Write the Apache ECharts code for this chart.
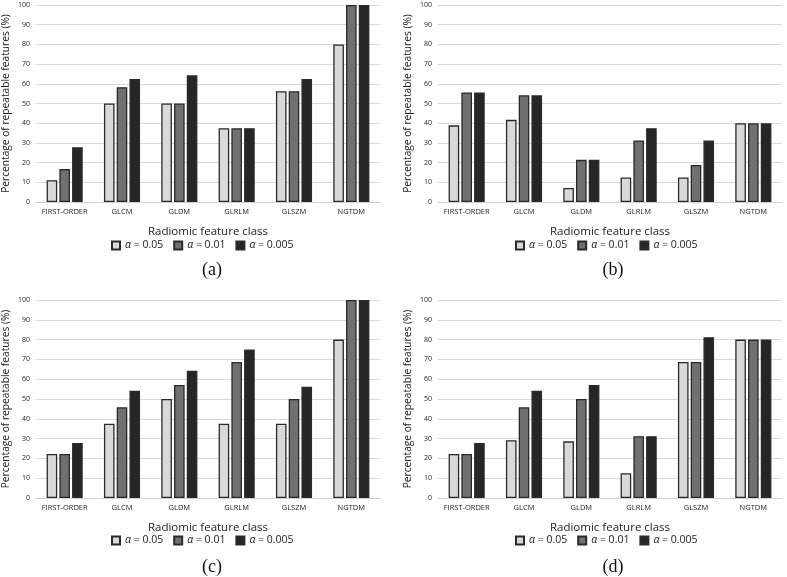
<!DOCTYPE html>
<html>
<head>
<meta charset="utf-8">
<script src="https://cdn.jsdelivr.net/npm/echarts@6/dist/echarts.min.js"></script>
<style>
html,body{margin:0;padding:0;background:#fff;}
#main{width:787px;height:577px;}
</style>
</head>
<body>
<div id="main"></div>
<script>
const categories = ['FIRST-ORDER', 'GLCM', 'GLDM', 'GLRLM', 'GLSZM', 'NGTDM'];
const seriesNames = ['α = 0.05', 'α = 0.01', 'α = 0.005'];
const panelLabels = ['(a)', '(b)', '(c)', '(d)'];

// Panel (a)
const a_alpha005 = [11.1, 50, 50, 37.5, 56.25, 80];
const a_alpha001 = [16.7, 58.3, 50, 37.5, 56.25, 100];
const a_alpha0005 = [27.8, 62.5, 64.3, 37.5, 62.5, 100];
// Panel (b)
const b_alpha005 = [38.9, 41.7, 7.1, 12.5, 12.5, 40];
const b_alpha001 = [55.6, 54.2, 21.4, 31.25, 18.75, 40];
const b_alpha0005 = [55.6, 54.2, 21.4, 37.5, 31.25, 40];
// Panel (c)
const c_alpha005 = [22.2, 37.5, 50, 37.5, 37.5, 80];
const c_alpha001 = [22.2, 45.8, 57.1, 68.75, 50, 100];
const c_alpha0005 = [27.8, 54.2, 64.3, 75, 56.25, 100];
// Panel (d)
const d_alpha005 = [22.2, 29.2, 28.6, 12.5, 68.75, 80];
const d_alpha001 = [22.2, 45.8, 50, 31.25, 68.75, 80];
const d_alpha0005 = [27.8, 54.2, 57.1, 31.25, 81.25, 80];

const panelData = [
  [a_alpha005, a_alpha001, a_alpha0005],
  [b_alpha005, b_alpha001, b_alpha0005],
  [c_alpha005, c_alpha001, c_alpha0005],
  [d_alpha005, d_alpha001, d_alpha0005]
];

const colors = ['#d9d9d9', '#707070', '#262626'];
const font = 'Open Sans';

const grids = [
  {left: 33, right: 407, top: 5, bottom: 375},
  {left: 438, right: 5, top: 5, bottom: 375},
  {left: 33, right: 407, top: 300, bottom: 79},
  {left: 438, right: 5, top: 300, bottom: 79}
];
const legendPos = [
  {x: 106, y: 235}, {x: 510, y: 235}, {x: 106, y: 530}, {x: 510, y: 530}
];
const titlePos = [
  {x: 207, y: 256}, {x: 608, y: 256}, {x: 207, y: 553}, {x: 608, y: 553}
];

const xAxes = [], yAxes = [], series = [], legends = [], titles = [];
grids.forEach((g, i) => {
  xAxes.push({
    type: 'category', gridIndex: i, data: categories,
    axisLine: {lineStyle: {color: '#d0d0d0', width: 1}},
    axisTick: {show: false},
    axisLabel: {fontSize: 7.5, color: '#222', fontFamily: font, margin: 6, interval: 0},
    name: 'Radiomic feature class', nameLocation: 'middle', nameGap: 24,
    nameTextStyle: {fontSize: 11.5, color: '#222', fontFamily: font}
  });
  yAxes.push({
    type: 'value', gridIndex: i, min: 0, max: 100, interval: 10,
    axisLine: {show: false}, axisTick: {show: false},
    splitLine: {lineStyle: {color: '#d9d9d9', width: 1}},
    axisLabel: {fontSize: 7, color: '#222', fontFamily: font, margin: 6},
    name: 'Percentage of repeatable features (%)', nameLocation: 'middle', nameGap: 25,
    nameTextStyle: {fontSize: 10.2, color: '#222', fontFamily: font}
  });
  panelData[i].forEach((vals, k) => {
    series.push({
      type: 'bar', name: seriesNames[k], xAxisIndex: i, yAxisIndex: i,
      data: vals, barCategoryGap: '37%', barGap: '20%',
      itemStyle: {color: colors[k], borderColor: '#2a2a2a', borderWidth: 1.3},
      emphasis: {disabled: true}
    });
  });
  legends.push({
    data: seriesNames, left: legendPos[i].x, top: legendPos[i].y, width: 270,
    icon: 'rect', itemWidth: 8, itemHeight: 8, itemGap: 10,
    selectedMode: false,
    formatter: function (name) { return '{it|α}' + name.slice(1); },
    textStyle: {
      fontSize: 10.5, color: '#222', fontFamily: font,
      rich: {it: {fontStyle: 'italic', fontSize: 10.5, fontFamily: font, color: '#222'}}
    }
  });
  titles.push({
    text: panelLabels[i], left: titlePos[i].x, top: titlePos[i].y, textAlign: 'center',
    textStyle: {fontFamily: 'Liberation Serif', fontSize: 18, fontWeight: 'normal', color: '#111'}
  });
});

const chart = echarts.init(document.getElementById('main'), null, {renderer: 'canvas'});
chart.setOption({
  backgroundColor: '#fff',
  animation: false,
  title: titles,
  legend: legends,
  grid: grids,
  xAxis: xAxes,
  yAxis: yAxes,
  series: series
});
</script>
</body>
</html>
